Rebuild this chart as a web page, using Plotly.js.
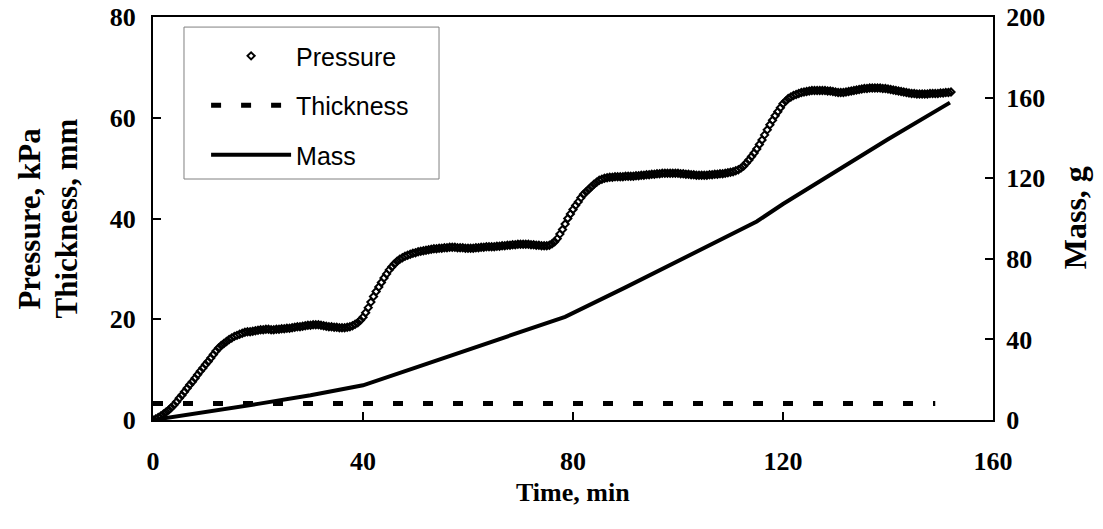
<!DOCTYPE html>
<html>
<head>
<meta charset="utf-8">
<script src="https://cdn.plot.ly/plotly-3.0.1.min.js"></script>
<style>html,body{margin:0;padding:0;background:#fff;}#chart{width:1103px;height:529px;}</style>
</head>
<body>
<div id="chart"></div>
<script>
const time = [0,0.5,1,1.5,2,2.5,3,3.5,4,4.5,5,5.5,6,6.5,7,7.5,8,8.5,9,9.5,10,10.5,11,11.5,12,12.5,13,13.5,14,14.5,15,15.5,16,16.5,17,17.5,18,18.5,19,19.5,20,20.5,21,21.5,22,22.5,23,23.5,24,24.5,25,25.5,26,26.5,27,27.5,28,28.5,29,29.5,30,30.5,31,31.5,32,32.5,33,33.5,34,34.5,35,35.5,36,36.5,37,37.5,38,38.5,39,39.5,40,40.5,41,41.5,42,42.5,43,43.5,44,44.5,45,45.5,46,46.5,47,47.5,48,48.5,49,49.5,50,50.5,51,51.5,52,52.5,53,53.5,54,54.5,55,55.5,56,56.5,57,57.5,58,58.5,59,59.5,60,60.5,61,61.5,62,62.5,63,63.5,64,64.5,65,65.5,66,66.5,67,67.5,68,68.5,69,69.5,70,70.5,71,71.5,72,72.5,73,73.5,74,74.5,75,75.5,76,76.5,77,77.5,78,78.5,79,79.5,80,80.5,81,81.5,82,82.5,83,83.5,84,84.5,85,85.5,86,86.5,87,87.5,88,88.5,89,89.5,90,90.5,91,91.5,92,92.5,93,93.5,94,94.5,95,95.5,96,96.5,97,97.5,98,98.5,99,99.5,100,100.5,101,101.5,102,102.5,103,103.5,104,104.5,105,105.5,106,106.5,107,107.5,108,108.5,109,109.5,110,110.5,111,111.5,112,112.5,113,113.5,114,114.5,115,115.5,116,116.5,117,117.5,118,118.5,119,119.5,120,120.5,121,121.5,122,122.5,123,123.5,124,124.5,125,125.5,126,126.5,127,127.5,128,128.5,129,129.5,130,130.5,131,131.5,132,132.5,133,133.5,134,134.5,135,135.5,136,136.5,137,137.5,138,138.5,139,139.5,140,140.5,141,141.5,142,142.5,143,143.5,144,144.5,145,145.5,146,146.5,147,147.5,148,148.5,149,149.5,150,150.5,151,151.5,152];
const pressure = [0,0.2,0.5,0.8,1.2,1.6,2.0,2.5,3.0,3.6,4.3,4.9,5.6,6.3,7.0,7.6,8.3,9.0,9.7,10.3,11.0,11.6,12.3,13.0,13.7,14.3,14.8,15.2,15.6,16.0,16.3,16.6,16.8,17.0,17.2,17.4,17.5,17.5,17.6,17.7,17.8,17.9,17.9,18.0,18.0,17.9,17.9,18.0,18.0,18.1,18.1,18.2,18.2,18.3,18.4,18.5,18.5,18.6,18.7,18.8,18.8,18.9,18.9,18.9,18.8,18.7,18.6,18.5,18.5,18.4,18.4,18.3,18.3,18.3,18.4,18.5,18.7,19.0,19.3,19.8,20.4,21.3,22.3,23.4,24.5,25.5,26.4,27.3,28.2,29.0,29.8,30.4,31.0,31.5,31.9,32.2,32.5,32.7,32.9,33.1,33.2,33.4,33.5,33.6,33.7,33.8,33.9,34.0,34.0,34.1,34.1,34.2,34.2,34.3,34.3,34.3,34.2,34.2,34.2,34.1,34.1,34.1,34.1,34.2,34.2,34.3,34.3,34.4,34.4,34.4,34.4,34.5,34.5,34.6,34.6,34.7,34.7,34.8,34.8,34.9,34.9,34.9,34.9,34.9,34.8,34.8,34.7,34.7,34.6,34.6,34.6,34.7,35.0,35.4,36.0,36.9,37.8,38.9,40.0,40.9,41.8,42.6,43.3,44.1,44.8,45.3,45.8,46.3,46.8,47.2,47.6,47.8,48.0,48.1,48.2,48.2,48.3,48.3,48.3,48.3,48.4,48.4,48.4,48.4,48.5,48.5,48.6,48.6,48.7,48.7,48.8,48.8,48.9,48.9,49.0,49.0,49.0,49.0,49.0,49.0,49.0,48.9,48.9,48.8,48.8,48.7,48.7,48.6,48.6,48.6,48.6,48.6,48.7,48.7,48.8,48.8,48.9,48.9,49.0,49.1,49.2,49.3,49.5,49.7,50.0,50.4,51.0,51.6,52.3,53.0,53.8,54.7,55.6,56.6,57.6,58.6,59.5,60.4,61.2,62.0,62.8,63.3,63.8,64.1,64.4,64.6,64.8,65.0,65.1,65.2,65.3,65.4,65.4,65.4,65.4,65.4,65.4,65.3,65.3,65.2,65.1,65.0,65.0,65.0,65.1,65.2,65.3,65.4,65.5,65.6,65.7,65.8,65.8,65.9,65.9,65.9,65.9,65.9,65.8,65.8,65.7,65.6,65.5,65.4,65.3,65.2,65.1,65.0,64.9,64.8,64.8,64.7,64.7,64.7,64.7,64.7,64.8,64.8,64.8,64.8,64.9,64.9,65.0,65.0,65.1];
const thicknessTime = [0,149];
const thickness = [3.3,3.3];
const massTime = [0,10,20,30,40,50,60,70,78.5,90,100,110,115,120,130,140,151.8];
const mass = [0,3.8,8,12.3,17.2,26,34.9,43.7,51.2,65.8,78.7,91.6,98.5,107.2,123.2,139.3,157.5];
const leftTitles = ['Pressure, kPa', 'Thickness, mm'];
const rightTitle = 'Mass, g';
const xTitle = 'Time, min';

const serif = "Liberation Serif, Times New Roman, serif";
const sans = "Liberation Sans, Arial, sans-serif";

const traces = [
  {x: time, y: pressure, name: 'Pressure', type: 'scatter', mode: 'markers',
   marker: {symbol: 'diamond-open', size: 5.5, color: '#000', line: {width: 2, color: '#000'}},
   legendgroup: 'a', yaxis: 'y'},
  {x: thicknessTime, y: thickness, name: 'Thickness', type: 'scatter', mode: 'lines',
   line: {color: '#000', width: 5, dash: '10px,20px'}, legendgroup: 'b', yaxis: 'y'},
  {x: massTime, y: mass, name: 'Mass', type: 'scatter', mode: 'lines',
   line: {color: '#000', width: 4}, legendgroup: 'c', yaxis: 'y2'}
];

const axisCommon = {
  showline: true, linecolor: '#000', linewidth: 2, ticks: 'inside', ticklen: 8, tickwidth: 2,
  tickcolor: '#000', showgrid: false, zeroline: false,
  tickfont: {family: serif, size: 26, color: '#000', weight: 'bold'}
};
const titleFont = {family: serif, size: 31, color: '#000', weight: 'bold'};

const layout = {
  width: 1103, height: 529,
  margin: {l: 153, r: 110, t: 17, b: 109},
  paper_bgcolor: '#fff', plot_bgcolor: '#fff',
  showlegend: true,
  xaxis: Object.assign({}, axisCommon, {range: [0,160], dtick: 40, tick0: 0, mirror: true,
    ticklabelstandoff: 17}),
  yaxis: Object.assign({}, axisCommon, {range: [0,80], dtick: 20, tick0: 0, ticklabelstandoff: 10}),
  yaxis2: Object.assign({}, axisCommon, {range: [0,200], dtick: 40, tick0: 0, overlaying: 'y', side: 'right', ticklabelstandoff: 6}),
  annotations: [
    {text: xTitle, xref: 'paper', yref: 'paper', x: 0.5, y: -0.18, xanchor: 'center', yanchor: 'middle', showarrow: false,
     font: {family: serif, size: 26, color: '#000', weight: 'bold'}},
    {text: leftTitles[0], xref: 'paper', yref: 'paper', x: -0.1475, y: 0.5, xanchor: 'center', yanchor: 'middle', textangle: -90, showarrow: false, font: titleFont},
    {text: leftTitles[1], xref: 'paper', yref: 'paper', x: -0.1024, y: 0.5, xanchor: 'center', yanchor: 'middle', textangle: -90, showarrow: false, font: titleFont},
    {text: rightTitle, xref: 'paper', yref: 'paper', x: 1.0976, y: 0.503, xanchor: 'center', yanchor: 'middle', textangle: -90, showarrow: false,
     font: {family: serif, size: 32, color: '#000', weight: 'bold'}}
  ],
  shapes: [
    {type: 'rect', xref: 'paper', yref: 'paper', x0: 0.0369, x1: 0.3405, y0: 0.598, y1: 0.975,
     line: {color: '#808080', width: 1}, fillcolor: '#fff', layer: 'below'}
  ],
  legend: {x: 0.0632, y: 0.960, xanchor: 'left', yanchor: 'top', bgcolor: 'rgba(0,0,0,0)',
    borderwidth: 0, font: {family: sans, size: 25, color: '#000'},
    tracegroupgap: 14, itemwidth: 80}
};

Plotly.newPlot('chart', traces, layout, {displayModeBar: false, staticPlot: true});
</script>
</body>
</html>
